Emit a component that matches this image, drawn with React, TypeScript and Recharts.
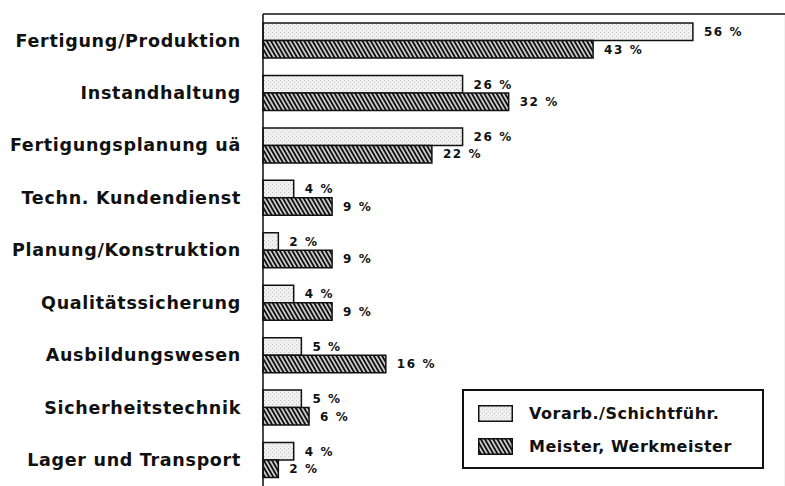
import {
  BarChart,
  Bar,
  XAxis,
  YAxis,
  CartesianGrid,
  LabelList,
  Legend,
} from "recharts";

const categories = [
  "Fertigung/Produktion",
  "Instandhaltung",
  "Fertigungsplanung uä",
  "Techn. Kundendienst",
  "Planung/Konstruktion",
  "Qualitätssicherung",
  "Ausbildungswesen",
  "Sicherheitstechnik",
  "Lager und Transport",
];

const vorarbeiter = [56, 26, 26, 4, 2, 4, 5, 5, 4];
const meister = [43, 32, 22, 9, 9, 9, 16, 6, 2];

const xTicks = [0, 10, 20, 30, 40, 50, 60];

const seriesNames = ["Vorarb./Schichtführ.", "Meister, Werkmeister"];

const data = categories.map((name, i) => ({
  name,
  vorarb: vorarbeiter[i],
  meister: meister[i],
}));

const FONT = "'DejaVu Sans', 'Liberation Sans', Arial, sans-serif";
const INK = "#111";

// patterns live in a hidden svg so both the chart and the legend can use them
function Patterns() {
  return (
    <svg width={0} height={0} style={{ position: "absolute" }}>
      <defs>
        <pattern id="stipple" patternUnits="userSpaceOnUse" width={4} height={4}>
          <rect width={4} height={4} fill="#f0f0f0" />
          <rect x={0} y={0} width={1} height={1} fill="#c2c2c2" />
          <rect x={2} y={2} width={1} height={1} fill="#d2d2d2" />
        </pattern>
        <pattern
          id="hatch"
          patternUnits="userSpaceOnUse"
          width={3.6}
          height={3.6}
          patternTransform="rotate(-30)"
        >
          <rect width={3.6} height={3.6} fill="#fff" />
          <line x1={1.8} y1={0} x2={1.8} y2={3.6} stroke={INK} strokeWidth={2.2} />
        </pattern>
      </defs>
    </svg>
  );
}

const CategoryTick = ({ x, y, payload }: any) => (
  <text
    x={x}
    y={y}
    dy="0.36em"
    textAnchor="end"
    fontFamily={FONT}
    fontWeight="bold"
    fontSize={17.5}
    letterSpacing={0.7}
    fill={INK}
  >
    {payload.value}
  </text>
);

const valueLabel = (props: any) => {
  const { x, y, width, height, value } = props;
  return (
    <text
      x={x + width + 11}
      y={y + height / 2}
      dy="0.36em"
      fontFamily={FONT}
      fontWeight="bold"
      fontSize={12}
      letterSpacing={1.6}
      fill={INK}
    >
      {`${value} %`}
    </text>
  );
};

function LegendBox() {
  const items = [
    { label: seriesNames[0], fill: "url(#stipple)" },
    { label: seriesNames[1], fill: "url(#hatch)" },
  ];
  return (
    <div
      style={{
        width: 302,
        height: 80,
        boxSizing: "border-box",
        border: `2px solid ${INK}`,
        background: "#fff",
        paddingTop: 14,
        paddingLeft: 14,
      }}
    >
      {items.map((it, i) => (
        <div
          key={it.label}
          style={{
            display: "flex",
            alignItems: "center",
            height: 17,
            marginBottom: i === 0 ? 16 : 0,
          }}
        >
          <svg width={35} height={17} style={{ display: "block" }}>
            <rect
              x={0.75}
              y={0.75}
              width={33.5}
              height={15.5}
              fill={it.fill}
              stroke={INK}
              strokeWidth={1.5}
            />
          </svg>
          <span
            style={{
              marginLeft: 16,
              fontFamily: FONT,
              fontWeight: "bold",
              fontSize: 16,
              letterSpacing: 0.5,
              color: INK,
              whiteSpace: "nowrap",
            }}
          >
            {it.label}
          </span>
        </div>
      ))}
    </div>
  );
}

export default function App() {
  return (
    <div
      style={{
        position: "absolute",
        left: 0,
        top: 0,
        width: 785,
        height: 486,
        background: "#fff",
      }}
    >
      <Patterns />
      <BarChart
        width={785}
        height={486}
        data={data}
        layout="vertical"
        margin={{ top: 13, right: 0, bottom: 0, left: 0 }}
        barSize={17.5}
        barGap={0}
      >
        <CartesianGrid horizontal={false} stroke="#e8e8e8" />
        <XAxis
          type="number"
          domain={[0, 68]}
          ticks={xTicks}
          orientation="top"
          height={1}
          tick={false}
          tickLine={false}
          axisLine={{ stroke: INK, strokeWidth: 1.5 }}
        />
        <YAxis
          type="category"
          dataKey="name"
          width={263}
          tickSize={0}
          tickMargin={22}
          tickLine={false}
          axisLine={{ stroke: INK, strokeWidth: 1.5 }}
          tick={<CategoryTick />}
          interval={0}
        />
        <Legend
          layout="vertical"
          align="center"
          verticalAlign="middle"
          wrapperStyle={{ left: 462, top: 389, width: 302, height: 80 }}
          content={() => <LegendBox />}
        />
        <Bar
          dataKey="vorarb"
          name={seriesNames[0]}
          fill="url(#stipple)"
          stroke={INK}
          strokeWidth={1.5}
          isAnimationActive={false}
        >
          <LabelList dataKey="vorarb" content={valueLabel} />
        </Bar>
        <Bar
          dataKey="meister"
          name={seriesNames[1]}
          fill="url(#hatch)"
          stroke={INK}
          strokeWidth={1.5}
          isAnimationActive={false}
        >
          <LabelList dataKey="meister" content={valueLabel} />
        </Bar>
      </BarChart>
    </div>
  );
}
